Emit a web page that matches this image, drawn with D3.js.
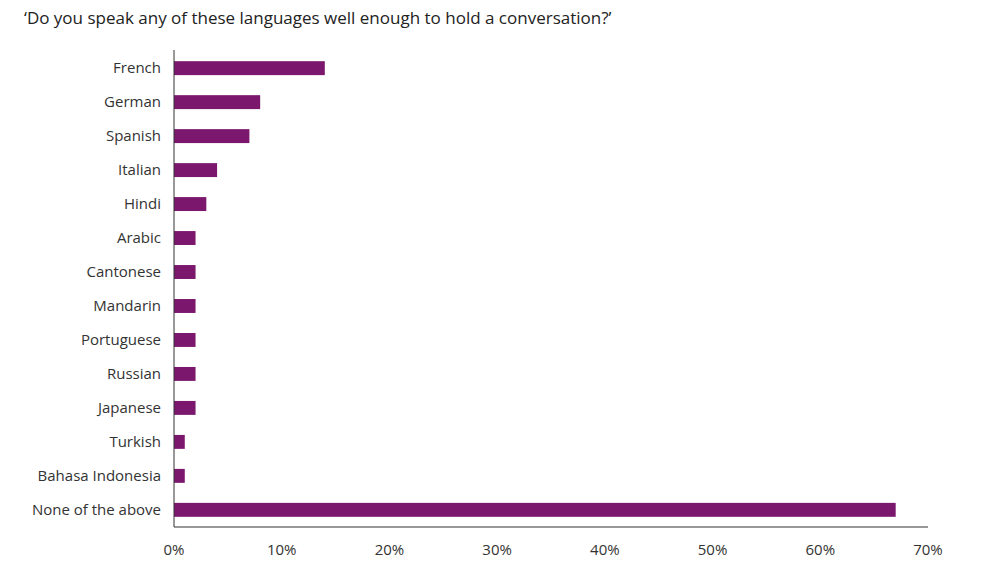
<!DOCTYPE html>
<html><head><meta charset="utf-8">
<script src="https://cdn.jsdelivr.net/npm/d3@7"></script>
<style>body{margin:0;background:#fff;font-family:"Open Sans",sans-serif;}</style>
</head><body>
<svg id="chart" width="1003" height="564"></svg>
<script>
const languages = ["French","German","Spanish","Italian","Hindi","Arabic","Cantonese","Mandarin","Portuguese","Russian","Japanese","Turkish","Bahasa Indonesia","None of the above"]
const shares = [14,8,7,4,3,2,2,2,2,2,2,1,1,67]
const ticks = [0,10,20,30,40,50,60,70]

const svg = d3.select('#chart')
const x = d3.scaleLinear().domain([0,70]).range([174,928])
const y = d3.scaleBand().domain(languages).range([51,527]).paddingInner(0.59).paddingOuter(0.3)

svg.append('text').attr('x',24).attr('y',24)
  .style('font-size','17px').attr('fill','#222')
  .text('‘Do you speak any of these languages well enough to hold a conversation?’')

svg.selectAll('rect.bar').data(languages).join('rect')
  .attr('class','bar')
  .attr('x',x(0)).attr('y',d=>y(d))
  .attr('width',(d,i)=>x(shares[i])-x(0))
  .attr('height',y.bandwidth())
  .attr('fill','#7b176c')

svg.selectAll('text.cat').data(languages).join('text')
  .attr('class','cat')
  .attr('x',161).attr('y',d=>y(d)+y.bandwidth()/2)
  .attr('dy','0.35em').attr('text-anchor','end')
  .style('font-size','15px').attr('fill','#333')
  .text(d=>d)

svg.append('line').attr('x1',174).attr('x2',174).attr('y1',50).attr('y2',527).attr('stroke','#333')
svg.append('line').attr('x1',174).attr('x2',928).attr('y1',527).attr('y2',527).attr('stroke','#333')

svg.selectAll('text.tick').data(ticks).join('text')
  .attr('class','tick')
  .attr('x',d=>x(d)).attr('y',555).attr('text-anchor','middle')
  .style('font-size','15px').attr('fill','#333')
  .text(d=>d+'%')
</script>
</body></html>
